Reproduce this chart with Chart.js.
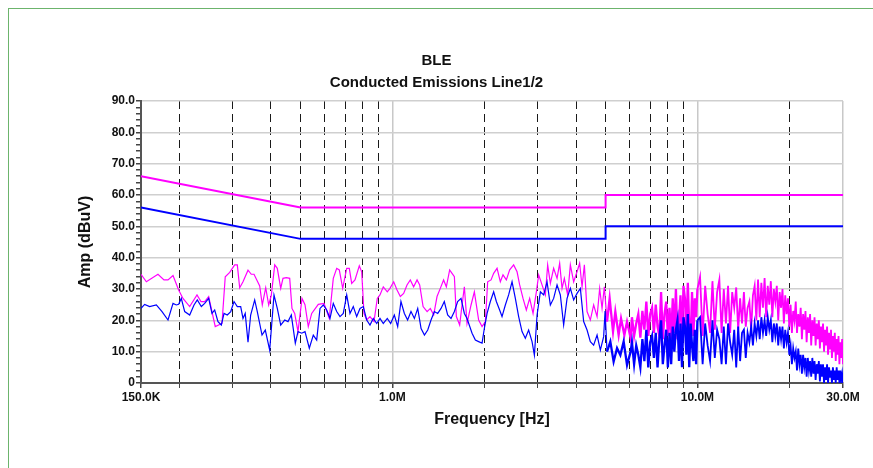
<!DOCTYPE html>
<html>
<head>
<meta charset="utf-8">
<title>BLE Conducted Emissions</title>
<script src="https://cdn.jsdelivr.net/npm/chart.js@4.4.0/dist/chart.umd.min.js"></script>
<style>
  body { margin: 0; background: #fff; }
  #wrap { position: relative; width: 873px; height: 468px; overflow: hidden; }
  #frame { position: absolute; left: 8px; top: 8px; width: 900px; height: 500px;
           border-left: 1px solid #6cb46c; border-top: 1px solid #6cb46c; }
  #chart { position: absolute; left: 0; top: 0; }
</style>
</head>
<body>
<div id="wrap">
  <div id="frame"></div>
  <canvas id="chart" width="873" height="468"></canvas>
</div>
<script>
// frequency axis (MHz)
const xTickValues = [0.15, 0.2, 0.3, 0.4, 0.5, 0.6, 0.7, 0.8, 0.9, 1, 2, 3, 4, 5, 6, 7, 8, 9, 10, 20, 30];
const xTickLabels = ['150.0K', '', '', '', '', '', '', '', '', '1.0M', '', '', '', '', '', '', '', '', '10.0M', '', '30.0M'];

// limit lines
const limitFreq = [0.15, 0.5, 5, 5, 30];
const qpLimit = [66, 56, 56, 60, 60];
const avgLimit = [56, 46, 46, 50, 50];

// peak trace, 150K - 6M
const peakFreq = [
  0.150, 0.1562, 0.1705, 0.1784, 0.1839, 0.1910, 0.1993, 0.2059, 0.2166, 0.2289,
  0.2359, 0.2426, 0.2500, 0.2627, 0.2764, 0.2833, 0.2930, 0.3042, 0.3103, 0.3159,
  0.3239, 0.3364, 0.3448, 0.3520, 0.3674, 0.3747, 0.3845, 0.3932, 0.4011, 0.4115,
  0.4196, 0.4306, 0.4380, 0.4491, 0.4608, 0.4688, 0.4785, 0.4906, 0.5056, 0.5172,
  0.5302, 0.5440, 0.5718, 0.5970, 0.6213, 0.6403, 0.6570, 0.6700, 0.6874, 0.7085,
  0.7225, 0.7357, 0.7542, 0.7792, 0.7934, 0.8073, 0.8239, 0.8446, 0.8706, 0.8925,
  0.9108, 0.9338, 0.9625, 0.9822, 1.010, 1.036, 1.062, 1.089, 1.117, 1.145,
  1.174, 1.205, 1.229, 1.261, 1.300, 1.332, 1.366, 1.401, 1.436, 1.472,
  1.503, 1.541, 1.569, 1.597, 1.621, 1.662, 1.692, 1.722, 1.757, 1.811,
  1.857, 1.918, 1.968, 2.018, 2.053, 2.106, 2.148, 2.204, 2.259, 2.305,
  2.364, 2.424, 2.498, 2.563, 2.614, 2.681, 2.749, 2.819, 2.892, 2.965,
  3.017, 3.095, 3.173, 3.229, 3.295, 3.378, 3.466, 3.535, 3.599, 3.662,
  3.755, 3.832, 3.929, 4.030, 4.110, 4.186, 4.260, 4.347, 4.456, 4.569,
  4.688, 4.781, 4.868, 4.953, 5.055, 5.155, 5.288, 5.381, 5.517, 5.618,
  5.760, 5.878, 6.040
];
const peakAmp = [
  34.7, 32.3, 34.7, 32.9, 32.9, 34.3, 29.7, 27, 24.4, 28.1,
  26, 26, 27.6, 18, 19, 33.9, 35.3, 37.7, 37.7, 30.4,
  32.3, 36, 34.7, 34.7, 31, 24.9, 30.4, 24.9, 28, 37.7,
  36.6, 30.2, 33.4, 33.6, 33.4, 23.8, 22.2, 16.4, 27, 25,
  18, 22.2, 25.1, 25.4, 20.6, 33.4, 36.6, 36.1, 30.2, 36.6,
  36.6, 31.8, 32.9, 37.4, 35.5, 22.2, 20.1, 21.2, 19.6, 27,
  28.1, 30.7, 29.1, 30.2, 32.3, 29.7, 27.6, 28.6, 31.3, 32.9,
  30.7, 32.9, 31.3, 24.4, 22.8, 23.8, 21.7, 27.6, 30.2, 32.9,
  30.7, 36.1, 35, 33.9, 21.2, 18.5, 24.9, 30.7, 19, 24.9,
  29.1, 20.1, 18, 19.6, 32.3, 32.9, 35, 36.6, 32.3, 34.5,
  32.9, 36.1, 37.7, 35.5, 31.3, 27, 23.3, 27, 22.2, 29.1,
  34.5, 31.3, 28.1, 37.7, 31.8, 36.6, 33.4, 38.2, 30.2, 33.4,
  28.1, 37.7, 32.3, 35.5, 38.2, 30.7, 37.7, 22.8, 20.1, 24.9,
  21.2, 30.2, 23.8, 30.7, 19.6, 27, 16.4, 22.8, 15.3, 20.6,
  15.3, 19.6, 14.3
];

// average trace, 150K - 6M
const avgFreq = [
  0.150, 0.1542, 0.1601, 0.1684, 0.1758, 0.1839, 0.1910, 0.1958, 0.1993, 0.2033,
  0.2086, 0.2166, 0.2238, 0.2294, 0.2365, 0.2426, 0.2500, 0.2563, 0.2616, 0.2682,
  0.2750, 0.2807, 0.2877, 0.2953, 0.3027, 0.3103, 0.3183, 0.3239, 0.3294, 0.3364,
  0.3432, 0.3538, 0.3608, 0.3739, 0.3833, 0.3962, 0.4093, 0.4196, 0.4306, 0.4437,
  0.4549, 0.4664, 0.4807, 0.4906, 0.5044, 0.5172, 0.5343, 0.5506, 0.5649, 0.5792,
  0.5938, 0.6092, 0.6246, 0.6403, 0.6570, 0.6735, 0.6905, 0.7085, 0.7263, 0.7446,
  0.7640, 0.7833, 0.8030, 0.8239, 0.8446, 0.8659, 0.8885, 0.9108, 0.9338, 0.9625,
  0.9874, 1.015, 1.041, 1.067, 1.095, 1.122, 1.151, 1.181, 1.211, 1.242,
  1.274, 1.306, 1.339, 1.373, 1.408, 1.444, 1.480, 1.518, 1.557, 1.597,
  1.637, 1.679, 1.722, 1.757, 1.825, 1.871, 1.918, 1.968, 2.002, 2.044,
  2.095, 2.148, 2.192, 2.247, 2.288, 2.346, 2.405, 2.468, 2.530, 2.594,
  2.661, 2.728, 2.797, 2.870, 2.921, 2.981, 3.056, 3.133, 3.214, 3.295,
  3.378, 3.466, 3.553, 3.643, 3.738, 3.832, 3.929, 4.030, 4.133, 4.237,
  4.347, 4.456, 4.569, 4.688, 4.806, 4.927, 4.980, 5.055, 5.182, 5.312,
  5.451, 5.589, 5.730, 5.878, 6.040
];
const avgAmp = [
  23.8, 25.1, 24.4, 24.9, 22.8, 20.1, 25.4, 24.9, 25.1, 27,
  22.8, 21.7, 24.9, 26.5, 24.4, 25.4, 27, 22.2, 23.3, 19.6,
  18.5, 22.2, 21.7, 22.8, 26, 24.4, 24.4, 20.6, 22.2, 13,
  21.7, 26.5, 22.8, 15.3, 16.9, 10.5, 28.1, 23.8, 18.5, 20.1,
  19.6, 21.7, 12.7, 16.4, 15.9, 16.4, 11.1, 15.3, 13.7, 23.8,
  24.9, 23.3, 20.6, 25.4, 22.8, 21.2, 22.2, 28.1, 22.2, 24.4,
  21.2, 23.8, 24.4, 20.1, 18.5, 20.6, 19, 20.6, 19, 20.6,
  19, 21.7, 18, 26, 22.2, 20.1, 22.8, 20.6, 23.8, 17.4,
  15.3, 16.9, 20.1, 22.8, 22.2, 23.8, 26, 21.7, 20.6, 22.8,
  26, 27, 22.2, 20.6, 15.9, 13.7, 13.2, 12.7, 17.4, 22.2,
  26, 29.1, 26, 23.3, 21.2, 24.9, 28.1, 32.3, 27, 21.2,
  16.4, 14.3, 16.9, 13.2, 8.9, 21.7, 29.1, 28.1, 32.3, 24.9,
  27, 31.3, 28.1, 18.5, 27, 30.2, 26.5, 28.6, 30.2, 19.6,
  16.9, 13.2, 12.1, 15.3, 10.5, 14.8, 23, 10, 13.2, 6.8,
  11.1, 8.9, 13.2, 5.7, 10
];

// dense scan 6.1M - 30M, shared by both traces
const denseFreq = [
  6.1, 6.2, 6.3, 6.4, 6.5, 6.6, 6.7, 6.8, 6.9, 7.0,
  7.1, 7.2, 7.3, 7.4, 7.5, 7.6, 7.7, 7.8, 7.9, 8.0,
  8.1, 8.2, 8.3, 8.4, 8.5, 8.6, 8.7, 8.8, 8.9, 9.0,
  9.1, 9.2, 9.3, 9.4, 9.5, 9.6, 9.7, 9.8, 9.9, 10.0,
  10.2, 10.4, 10.6, 10.8, 11.0, 11.2, 11.4, 11.6, 11.8, 12.0,
  12.2, 12.4, 12.6, 12.8, 13.0, 13.2, 13.4, 13.6, 13.8, 14.0,
  14.2, 14.4, 14.6, 14.8, 15.0, 15.2, 15.4, 15.6, 15.8, 16.0,
  16.2, 16.4, 16.6, 16.8, 17.0, 17.2, 17.4, 17.6, 17.8, 18.0,
  18.2, 18.4, 18.6, 18.8, 19.0, 19.2, 19.4, 19.6, 19.8, 20.0,
  20.2, 20.4, 20.6, 20.8, 21.0, 21.2, 21.4, 21.6, 21.8, 22.0,
  22.2, 22.4, 22.6, 22.8, 23.0, 23.2, 23.4, 23.6, 23.8, 24.0,
  24.2, 24.4, 24.6, 24.8, 25.0, 25.2, 25.4, 25.6, 25.8, 26.0,
  26.2, 26.4, 26.6, 26.8, 27.0, 27.2, 27.4, 27.6, 27.8, 28.0,
  28.2, 28.4, 28.6, 28.8, 29.0, 29.2, 29.4, 29.6, 29.8, 30.0
];
const densePeak = [
  21, 15, 19, 22, 14.5, 23, 17, 26, 15, 22,
  24, 16, 25, 18, 15, 29, 14, 22, 26, 15,
  24, 14, 27, 16, 30, 14, 20, 28, 13, 31,
  27, 15, 32, 18, 13, 29, 15, 27, 21, 30,
  33.9, 15, 31, 22, 16, 32.5, 17, 29, 33, 16,
  30, 19, 31, 16, 29, 24, 30.5, 17, 27, 19,
  29, 18, 24, 26, 17, 28, 31, 20, 33, 21,
  32, 24, 33.5, 21, 31, 25, 32.5, 21, 30, 26,
  31, 20, 29, 24, 30, 19, 28, 22, 27, 18,
  25, 16, 23, 20, 26, 16, 22, 18, 24, 14,
  22, 17, 23, 13, 21, 16, 22, 12, 20, 15,
  21, 12, 19, 14, 20, 11, 18, 13, 19, 10,
  17, 12, 18, 9, 16, 11, 17, 8, 15, 10,
  16, 7, 14, 9, 15, 6, 13, 8, 14, 6
];
const denseAvg = [
  13, 6, 12, 9, 5, 14, 7, 17, 5, 13,
  15, 8, 16, 5, 14, 20, 6, 12, 17, 5,
  16, 6, 18, 10, 17, 20, 7, 19, 5, 21,
  18, 9, 22, 5, 19, 12, 7, 17, 6, 20,
  21, 6, 19, 12, 7, 20, 8, 17, 14, 6,
  18, 6, 19, 13, 9, 17, 5, 18, 7, 16,
  17, 8, 16, 13, 18, 12, 19, 15, 20, 14,
  21, 16, 20, 15, 21, 17, 20, 13, 19, 15,
  19, 12, 18, 14, 18, 11, 17, 13, 16, 9,
  12, 6, 11, 8, 10, 4, 11, 6, 9, 3,
  9, 5, 8, 2, 8, 4, 7, 2, 8, 3,
  7, 1, 6, 3, 7, 0.5, 6, 2, 6, 0,
  5, 1, 6, 0, 5, 2, 4, 0, 5, 1,
  4, 0, 5, 1, 4, 0, 4, 1, 3, 0
];

const toPoints = (xs, ys) => xs.map((x, i) => ({ x: x, y: ys[i] }));
const solidX = [0.15, 1, 10, 30];
// the scan above 5 MHz is drawn heavier so it reads as a filled band
const traceWidth = ctx => {
  const f = ctx.p0.parsed.x;
  if (f >= 10) return 1.8;
  return f >= 5 ? 2.3 : 1.2;
};

Chart.defaults.font.family = "'Liberation Sans', Arial, sans-serif";
Chart.defaults.color = '#111';

new Chart(document.getElementById('chart').getContext('2d'), {
  type: 'line',
  data: {
    datasets: [
      { label: 'QP limit', data: toPoints(limitFreq, qpLimit), borderColor: '#ff00ff', borderWidth: 2, order: 0 },
      { label: 'AV limit', data: toPoints(limitFreq, avgLimit), borderColor: '#0000ff', borderWidth: 2, order: 0 },
      { label: 'Average', data: toPoints(avgFreq.concat(denseFreq), avgAmp.concat(denseAvg)),
        borderColor: '#0000ff', borderWidth: 1.2, segment: { borderWidth: traceWidth }, order: 1 },
      { label: 'Peak', data: toPoints(peakFreq.concat(denseFreq), peakAmp.concat(densePeak)),
        borderColor: '#ff00ff', borderWidth: 1.2, segment: { borderWidth: traceWidth }, order: 2 }
    ]
  },
  options: {
    responsive: false,
    animation: false,
    devicePixelRatio: 1,
    layout: { padding: 0 },
    elements: { point: { radius: 0 }, line: { tension: 0, fill: false } },
    plugins: {
      legend: { display: false },
      tooltip: { enabled: false },
      title: {
        display: true,
        text: ['BLE', 'Conducted Emissions Line1/2'],
        color: '#111',
        font: { size: 15, weight: 'bold', lineHeight: '22px' },
        padding: { top: 50, bottom: 7 }
      }
    },
    scales: {
      x: {
        type: 'logarithmic',
        min: 0.15,
        max: 30,
        afterBuildTicks: s => { s.ticks = xTickValues.map(v => ({ value: v })); },
        afterFit: s => { s.height = 85; },
        ticks: {
          autoSkip: false, maxRotation: 0, padding: 2, color: '#111',
          font: { size: 12, weight: 'bold' },
          callback: (v, i) => xTickLabels[i]
        },
        grid: {
          color: ctx => {
            const v = ctx.tick ? ctx.tick.value : null;
            if (v === 0.15) return 'rgba(0,0,0,0)';
            return solidX.includes(v) ? '#c8c8c8' : '#1a1a1a';
          },
          lineWidth: ctx => (ctx.tick && solidX.includes(ctx.tick.value)) ? 1.5 : 1,
          tickColor: '#444',
          tickLength: 5
        },
        border: {
          color: '#555', width: 2,
          dash: ctx => (ctx.type === 'tick' && !solidX.includes(ctx.tick.value)) ? [8, 5] : []
        },
        title: {
          display: true, text: 'Frequency [Hz]', color: '#111',
          font: { size: 16, weight: 'bold' },
          padding: { top: 0, bottom: 39 }
        }
      },
      y: {
        min: 0,
        max: 90,
        afterFit: s => { s.width = 141; },
        ticks: {
          stepSize: 2, autoSkip: false, padding: 1, color: '#111',
          font: { size: 12, weight: 'bold' },
          callback: v => v % 10 === 0 ? (v === 0 ? '0' : v.toFixed(1)) : ''
        },
        grid: {
          color: ctx => (ctx.tick && ctx.tick.value % 10 === 0) ? '#cfcfcf' : 'rgba(0,0,0,0)',
          lineWidth: 1.5,
          tickColor: '#444',
          tickLength: 5
        },
        border: { color: '#555', width: 2 },
        title: {
          display: true, text: 'Amp (dBuV)', color: '#111',
          font: { size: 16, weight: 'bold' },
          padding: { top: 76, bottom: 0 }
        }
      },
      y2: {
        axis: 'y',
        position: 'right',
        afterFit: s => { s.width = 30; },
        grid: { display: false, drawTicks: false },
        border: { display: false },
        ticks: { display: false }
      }
    }
  }
});
</script>
</body>
</html>
